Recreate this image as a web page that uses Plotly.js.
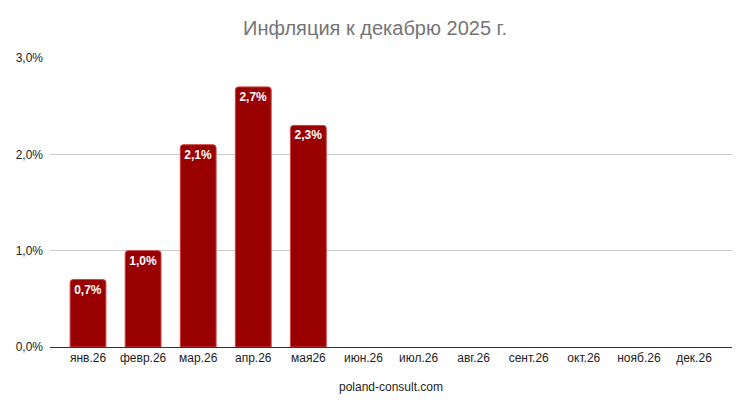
<!DOCTYPE html>
<html>
<head>
<meta charset="utf-8">
<script src="https://cdn.plot.ly/plotly-3.0.1.min.js"></script>
<style>
html, body { margin: 0; padding: 0; background: #fff; }
#chart { width: 750px; height: 410px; }
</style>
</head>
<body>
<div id="chart"></div>
<script>
var months = ['янв.26', 'февр.26', 'мар.26', 'апр.26', 'мая26', 'июн.26',
	'июл.26', 'авг.26', 'сент.26', 'окт.26', 'нояб.26', 'дек.26'];
var inflation = [0.007, 0.010, 0.021, 0.027, 0.023, null, null, null, null, null, null, null];
var yTicks = [0, 0.01, 0.02, 0.03];

var trace1 =
{
	x: months,
	y: inflation,
	type: 'bar',
	width: 0.65,
	marker: {color: '#990000', line: {color: '#c44', width: 1}, cornerradius: 3},
	texttemplate: '%{y:.1%}',
	textposition: 'inside',
	insidetextanchor: 'end',
	textangle: 0,
	insidetextfont: {family: 'Arial, "Liberation Sans", sans-serif', size: 12, color: '#ffffff', weight: 'bold'},
	hoverinfo: 'none'
};

var layout =
{
	width: 750,
	height: 410,
	separators: ', ',
	font: {family: 'Arial, "Liberation Sans", sans-serif', size: 12, color: '#222'},
	title: {text: 'Инфляция к декабрю 2025 г.', x: 0.5, xanchor: 'center', y: 0.932, yanchor: 'middle',
		font: {size: 20, color: '#757575'}},
	xaxis: {
		type: 'category',
		range: [-0.69, 11.69],
		showgrid: false,
		showline: true,
		linecolor: '#333',
		linewidth: 1,
		ticks: '',
		tickfont: {size: 12, color: '#222'},
		title: {text: 'poland-consult.com', standoff: 18, font: {size: 12, color: '#222'}}
	},
	yaxis: {
		range: [0, 0.03],
		tickvals: yTicks,
		tickformat: '.1%',
		showgrid: true,
		gridcolor: '#cccccc',
		gridwidth: 1,
		zeroline: false,
		ticks: '',
		ticklabelstandoff: 6,
		tickfont: {size: 12, color: '#222'}
	},
	margin: {l: 50, r: 18, t: 58, b: 63},
	showlegend: false,
	plot_bgcolor: '#fff',
	paper_bgcolor: '#fff'
};

Plotly.newPlot('chart', [trace1], layout, {displayModeBar: false, staticPlot: true});
</script>
</body>
</html>
